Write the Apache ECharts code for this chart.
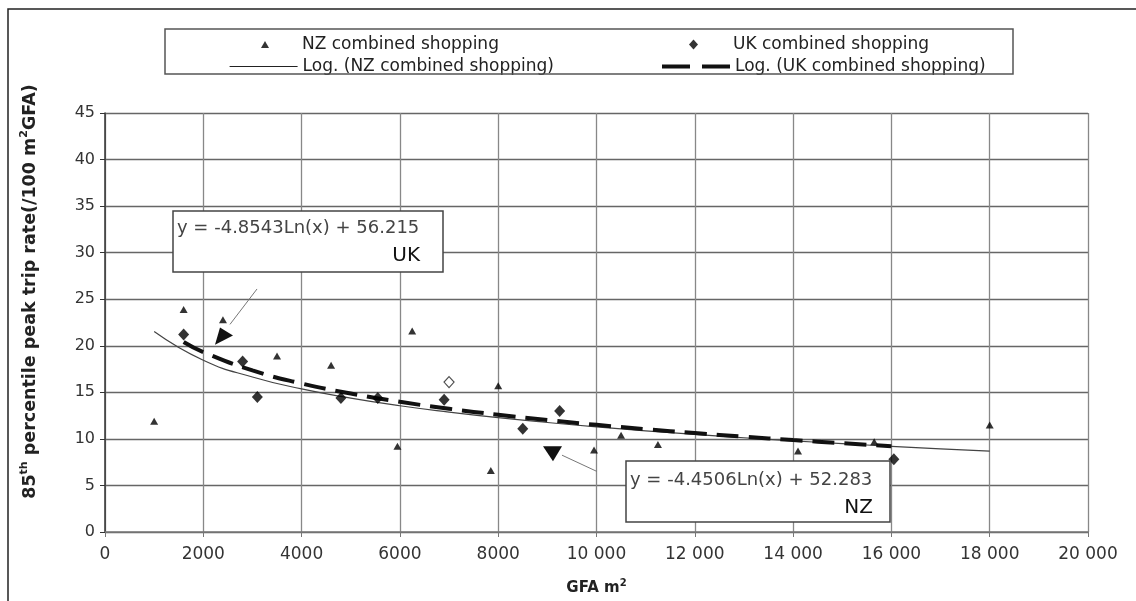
<!DOCTYPE html>
<html>
<head>
<meta charset="utf-8">
<script src="https://cdn.jsdelivr.net/npm/echarts@6/dist/echarts.min.js"></script>
<style>
html,body{margin:0;padding:0;background:#fff;}
#main{width:1136px;height:601px;}
</style>
</head>
<body>
<div id="main"></div>
<script>
// ---- data ----
const nzX = [1000, 1600, 2400, 3500, 4600, 5950, 6250, 7850, 8000, 9950, 10500, 11250, 14100, 15650, 18000];
const nzY = [11.9, 23.9, 22.8, 18.9, 17.9, 9.2, 21.6, 6.6, 15.7, 8.8, 10.4, 9.4, 8.7, 9.7, 11.5];
const ukX = [1600, 2800, 3100, 4800, 5550, 6900, 8500, 9250, 16050];
const ukY = [21.2, 18.3, 14.5, 14.4, 14.4, 14.2, 11.1, 13.0, 7.8];
const ukOpenX = [7000];
const ukOpenY = [16.1];
// trend curves
const nzTrendX = [1000, 2000, 3000, 4000, 5000, 6000, 7000, 8000, 9000, 10000, 11000, 12000, 13000, 14000, 15000, 16000, 17000, 18000];
const nzTrendY = [21.54, 18.45, 16.65, 15.37, 14.38, 13.56, 12.88, 12.28, 11.76, 11.29, 10.87, 10.48, 10.12, 9.79, 9.49, 9.20, 8.93, 8.68];
const ukTrendX = [1600, 2000, 3000, 4000, 5000, 6000, 7000, 8000, 9000, 10000, 11000, 12000, 13000, 14000, 15000, 16000];
const ukTrendY = [20.40, 19.32, 17.35, 15.95, 14.87, 13.98, 13.24, 12.59, 12.02, 11.51, 11.04, 10.62, 10.23, 9.87, 9.54, 9.22];
const xTicks = {min: 0, max: 20000, interval: 2000};
const yTicks = {min: 0, max: 45, interval: 5};
const nzEquation = 'y = -4.4506Ln(x) + 52.283';
const ukEquation = 'y = -4.8543Ln(x) + 56.215';
// annotation arrows (data coordinates)
const ukArrowLine = [[3093, 26.1], [2543, 22.3]];
const ukArrowHead = [[2340, 21.96], [2604, 21.1], [2238, 20.1]];
const nzArrowLine = [[10010, 6.5], [9298, 8.25]];
const nzArrowHead = [[8911, 9.2], [9298, 9.2], [9115, 7.6]];

const zip = (a, b) => a.map((v, i) => [v, b[i]]);
const FONT = 'DejaVu Sans';
const legendText = {fontFamily: FONT, fontSize: 17, color: '#222'};

const chart = echarts.init(document.getElementById('main'));
const option = {
  backgroundColor: '#ffffff',
  animation: false,
  textStyle: {fontFamily: FONT},
  grid: {left: 105, right: 48, top: 113, bottom: 68, containLabel: false},
  legend: [
    {
      left: 256, top: 31, itemWidth: 8, itemHeight: 7,
      textStyle: Object.assign({padding: [0, 0, 0, 28]}, legendText),
      data: [{name: 'NZ combined shopping', icon: 'triangle'}]
    },
    {
      left: 224, top: 53, itemWidth: 68, itemHeight: 8,
      itemStyle: {opacity: 0},
      lineStyle: {width: 1.2, color: '#222'},
      textStyle: legendText,
      data: ['Log. (NZ combined shopping)']
    },
    {
      left: 684, top: 31, itemWidth: 9, itemHeight: 10,
      textStyle: Object.assign({padding: [0, 0, 0, 30]}, legendText),
      data: [{name: 'UK combined shopping', icon: 'diamond'}]
    },
    {
      left: 655, top: 53, itemWidth: 68, itemHeight: 8,
      itemStyle: {opacity: 0},
      lineStyle: {type: [28, 12], width: 4, color: '#111'},
      textStyle: legendText,
      data: ['Log. (UK combined shopping)']
    }
  ],
  xAxis: {
    type: 'value', min: xTicks.min, max: xTicks.max, interval: xTicks.interval,
    name: '{n|GFA m}{s|2}', nameLocation: 'middle', nameGap: 46,
    nameTextStyle: {
      rich: {
        n: {fontFamily: FONT, fontWeight: 'bold', fontSize: 15, color: '#222', lineHeight: 18, verticalAlign: 'bottom'},
        s: {fontFamily: FONT, fontWeight: 'bold', fontSize: 10, color: '#222', lineHeight: 18, verticalAlign: 'top'}
      }
    },
    axisLine: {lineStyle: {color: '#777', width: 1.5}},
    axisTick: {show: true, length: 5, lineStyle: {color: '#777'}},
    axisLabel: {
      fontFamily: FONT, fontSize: 17, color: '#333', margin: 14,
      formatter: v => v >= 10000 ? String(v).replace(/(\d)(?=(\d{3})$)/, '$1 ') : String(v)
    },
    splitLine: {show: true, lineStyle: {color: '#888', width: 1.3}}
  },
  yAxis: {
    type: 'value', min: yTicks.min, max: yTicks.max, interval: yTicks.interval,
    name: '{n|85}{s|th}{n| percentile peak trip rate(/100 m}{s|2}{n|GFA)}',
    nameLocation: 'middle', nameRotate: 90, nameGap: 66,
    nameTextStyle: {
      padding: [0, 0, 0, 62],
      rich: {
        n: {fontFamily: FONT, fontWeight: 'bold', fontSize: 17.5, color: '#222', lineHeight: 20, verticalAlign: 'bottom'},
        s: {fontFamily: FONT, fontWeight: 'bold', fontSize: 11, color: '#222', lineHeight: 20, verticalAlign: 'top'}
      }
    },
    axisLine: {show: true, lineStyle: {color: '#333', width: 1.5}},
    axisTick: {show: true, length: 5, lineStyle: {color: '#333'}},
    axisLabel: {fontFamily: FONT, fontSize: 16, color: '#333', margin: 10},
    splitLine: {show: true, lineStyle: {color: '#666', width: 1.3}}
  },
  series: [
    {
      name: 'Log. (NZ combined shopping)', type: 'line', smooth: true, symbol: 'none',
      lineStyle: {color: '#444', width: 1.2}, itemStyle: {color: '#444'},
      data: zip(nzTrendX, nzTrendY), z: 3
    },
    {
      name: 'Log. (UK combined shopping)', type: 'line', smooth: true, symbol: 'none',
      lineStyle: {color: '#111', width: 4, type: [22, 10]}, itemStyle: {color: '#111'},
      data: zip(ukTrendX, ukTrendY), z: 4
    },
    {
      name: 'NZ combined shopping', type: 'scatter', symbol: 'triangle', symbolSize: [8, 7],
      itemStyle: {color: '#000'}, data: zip(nzX, nzY), z: 5
    },
    {
      name: 'UK combined shopping', type: 'scatter', symbol: 'diamond', symbolSize: [11, 12],
      itemStyle: {color: '#000'}, data: zip(ukX, ukY), z: 5
    },
    {
      name: 'UK combined shopping (open)', type: 'scatter', symbol: 'diamond', symbolSize: [10, 11],
      itemStyle: {color: '#fff', borderColor: '#222', borderWidth: 1.2}, data: zip(ukOpenX, ukOpenY), z: 5
    }
  ]
};
chart.setOption(option);

function px(p) { return chart.convertToPixel({gridIndex: 0}, p); }
const graphics = [
  // outer frame (left and top)
  {type: 'polyline', shape: {points: [[8, 620], [8, 9], [1136, 9]]}, style: {stroke: '#222', lineWidth: 1.5, fill: null}, z: 10},
  // legend box
  {type: 'rect', shape: {x: 165, y: 29, width: 848, height: 45}, style: {stroke: '#555', lineWidth: 1.5, fill: null}, z: 10},
  // UK equation box
  {type: 'rect', shape: {x: 173, y: 211, width: 270, height: 61}, style: {stroke: '#444', lineWidth: 1.5, fill: '#fff'}, z: 20},
  {type: 'text', x: 177, y: 228, style: {text: ukEquation, font: '18px "DejaVu Sans"', fill: '#444', textVerticalAlign: 'middle', textAlign: 'left'}, z: 21},
  {type: 'text', x: 420, y: 256, style: {text: 'UK', font: '20px "DejaVu Sans"', fill: '#111', textVerticalAlign: 'middle', textAlign: 'right'}, z: 21},
  // NZ equation box
  {type: 'rect', shape: {x: 626, y: 461, width: 264, height: 61}, style: {stroke: '#444', lineWidth: 1.5, fill: '#fff'}, z: 20},
  {type: 'text', x: 630, y: 480, style: {text: nzEquation, font: '18px "DejaVu Sans"', fill: '#444', textVerticalAlign: 'middle', textAlign: 'left'}, z: 21},
  {type: 'text', x: 873, y: 508, style: {text: 'NZ', font: '20px "DejaVu Sans"', fill: '#111', textVerticalAlign: 'middle', textAlign: 'right'}, z: 21},
  // arrows
  {type: 'polyline', shape: {points: ukArrowLine.map(px)}, style: {stroke: '#777', lineWidth: 1, fill: null}, z: 15},
  {type: 'polygon', shape: {points: ukArrowHead.map(px)}, style: {fill: '#111'}, z: 15},
  {type: 'polyline', shape: {points: nzArrowLine.map(px)}, style: {stroke: '#777', lineWidth: 1, fill: null}, z: 15},
  {type: 'polygon', shape: {points: nzArrowHead.map(px)}, style: {fill: '#111'}, z: 15}
];
chart.setOption({graphic: graphics});
</script>
</body>
</html>
